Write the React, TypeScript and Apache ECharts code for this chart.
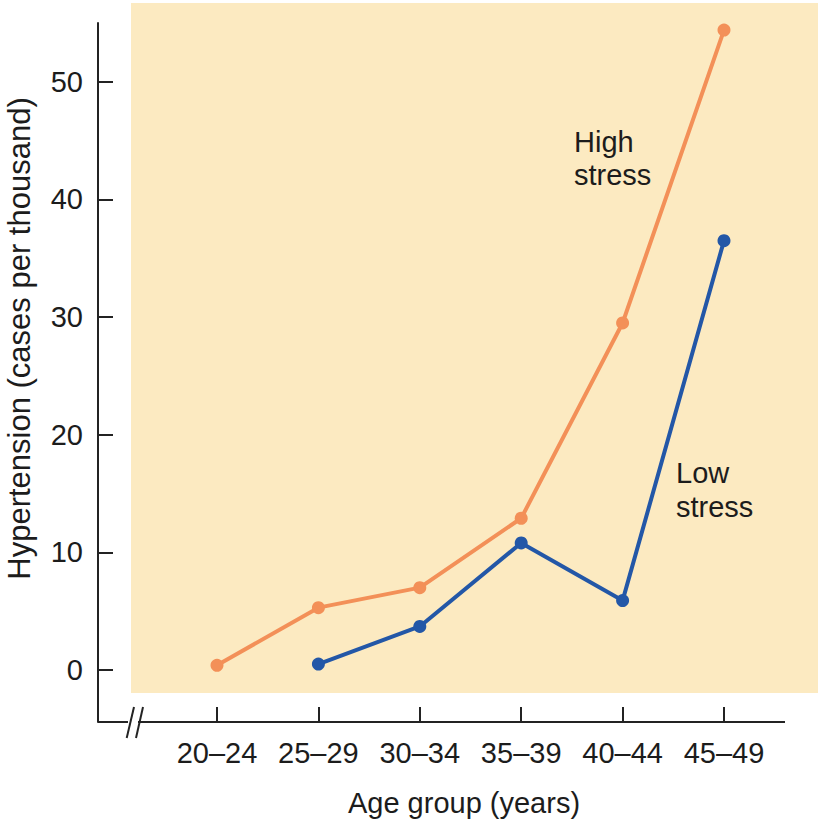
import React, { useEffect, useRef } from "react";
import * as echarts from "echarts";

const ageGroups = ["20–24", "25–29", "30–34", "35–39", "40–44", "45–49"];
const highStress = [0.4, 5.3, 7.0, 12.9, 29.5, 54.4];
const lowStress: (number | null)[] = [null, 0.5, 3.7, 10.8, 5.9, 36.5];
const yTicks = [0, 10, 20, 30, 40, 50];

const FONT = "'Liberation Sans', Arial, Helvetica, sans-serif";
const TEXT = "#1c1c1c";
const AXIS = "#232323";
const ORANGE = "#F39058";
const BLUE = "#2357A7";

export default function App() {
  const ref = useRef<HTMLDivElement>(null);
  useEffect(() => {
    if (!ref.current) return;
    const chart = echarts.init(ref.current, null, { renderer: "svg" });
    chart.setOption({
      animation: false,
      backgroundColor: "#ffffff",
      grid: { left: 166.3, right: 43.3, top: 23, bottom: 103, containLabel: false, outerBoundsMode: "none" },
      xAxis: {
        type: "category",
        data: ageGroups,
        boundaryGap: true,
        name: "Age group (years)",
        nameLocation: "middle",
        nameGap: 66,
        nameTextStyle: { fontFamily: FONT, fontSize: 29, color: TEXT, padding: [0, 13, 0, 0] },
        axisLine: { show: false, onZero: false },
        axisTick: { show: true, alignWithLabel: true, inside: true, length: 15, interval: 0, lineStyle: { color: AXIS, width: 2 } },
        axisLabel: { fontFamily: FONT, fontSize: 29, color: TEXT, margin: 16, interval: 0 },
        splitLine: { show: false },
      },
      yAxis: {
        type: "value",
        min: -4.42,
        max: 55,
        offset: 68.3,
        name: "Hypertension (cases per thousand)",
        nameLocation: "middle",
        nameGap: 63,
        nameTextStyle: { fontFamily: FONT, fontSize: 31, color: TEXT, padding: [0, 0, 0, 68] },
        axisLine: { show: true, lineStyle: { color: AXIS, width: 2 } },
        axisTick: { show: true, inside: true, length: 15, customValues: yTicks, lineStyle: { color: AXIS, width: 2 } },
        axisLabel: { fontFamily: FONT, fontSize: 29, color: TEXT, margin: 15, customValues: yTicks },
        splitLine: { show: false },
      },
      graphic: [
        { type: "rect", z: -10, shape: { x: 131, y: 3, width: 687, height: 690 }, style: { fill: "#FCEAC1" } },
        { type: "line", shape: { x1: 98, y1: 722, x2: 128, y2: 722 }, style: { stroke: AXIS, lineWidth: 2 } },
        { type: "line", shape: { x1: 138, y1: 722, x2: 785, y2: 722 }, style: { stroke: AXIS, lineWidth: 2 } },
        { type: "line", shape: { x1: 126.7, y1: 738, x2: 134, y2: 707 }, style: { stroke: AXIS, lineWidth: 2 } },
        { type: "line", shape: { x1: 136, y1: 738, x2: 143, y2: 707 }, style: { stroke: AXIS, lineWidth: 2 } },
        {
          type: "text", x: 574, y: 125,
          style: { text: "High\nstress", font: `29px ${FONT}`, fill: TEXT, lineHeight: 33, textVerticalAlign: "top" },
        },
        {
          type: "text", x: 676, y: 456,
          style: { text: "Low\nstress", font: `29px ${FONT}`, fill: TEXT, lineHeight: 34, textVerticalAlign: "top" },
        },
      ],
      series: [
        {
          name: "High stress",
          type: "line",
          data: highStress,
          symbol: "circle",
          symbolSize: 13,
          lineStyle: { color: ORANGE, width: 4 },
          itemStyle: { color: ORANGE },
          z: 3,
        },
        {
          name: "Low stress",
          type: "line",
          data: lowStress,
          connectNulls: false,
          symbol: "circle",
          symbolSize: 13,
          lineStyle: { color: BLUE, width: 4 },
          itemStyle: { color: BLUE },
          z: 4,
        },
      ],
    });
    return () => chart.dispose();
  }, []);
  return <div ref={ref} style={{ width: 818, height: 825, position: "absolute", left: 0, top: 0 }} />;
}
